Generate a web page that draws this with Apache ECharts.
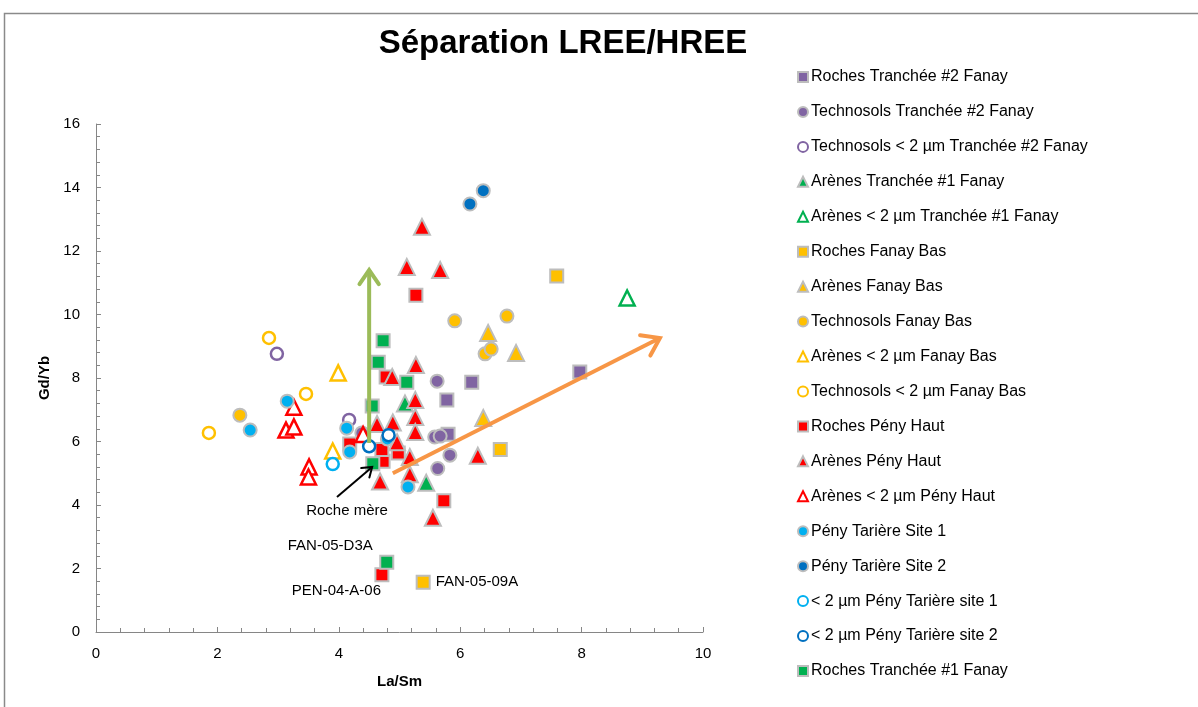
<!DOCTYPE html>
<html>
<head>
<meta charset="utf-8">
<script src="https://cdn.jsdelivr.net/npm/echarts@6/dist/echarts.min.js"></script>
<style>
  html, body { margin: 0; padding: 0; background: #fff; }
  #chart { width: 1198px; height: 707px; }
</style>
</head>
<body>
<div id="chart"></div>
<script>
// La/Sm (x) versus Gd/Yb (y) for each sample group
const rochesT2       = [[6.19, 7.87], [5.78, 7.31], [5.80, 6.23], [7.97, 8.19]];
const technoT2       = [[5.62, 7.90], [5.58, 6.14], [5.67, 6.17], [5.83, 5.57], [5.63, 5.15], [4.38, 6.27]];
const technoFineT2   = [[2.98, 8.76], [4.17, 6.68]];
const arenesT1       = [[5.09, 7.20], [5.44, 4.70]];
const arenesFineT1   = [[8.75, 10.52]];
const rochesBas      = [[7.59, 11.21], [6.66, 5.75], [5.39, 1.57]];
const arenesBas      = [[6.46, 9.42], [6.92, 8.79], [6.38, 6.74]];
const technoBas      = [[5.91, 9.80], [6.77, 9.95], [6.41, 8.76], [6.51, 8.91], [2.37, 6.83]];
const arenesFineBas  = [[3.99, 8.16], [3.90, 5.70]];
const technoFineBas  = [[2.85, 9.26], [3.46, 7.50], [1.86, 6.27]];
const rochesPeny     = [[5.27, 10.61], [4.78, 8.03], [4.18, 5.92], [4.98, 5.64], [4.73, 5.38], [4.71, 5.75], [5.73, 4.13], [4.71, 1.80]];
const arenesPeny     = [[5.37, 12.76], [5.12, 11.50], [5.67, 11.40], [5.27, 8.41], [4.88, 8.03], [5.26, 7.31], [5.26, 6.77], [4.89, 6.60],
                        [4.63, 6.55], [5.26, 6.30], [4.96, 5.98], [5.17, 5.51], [6.29, 5.55], [5.17, 4.97], [4.68, 4.74], [5.55, 3.60]];
const arenesFinePeny = [[3.26, 7.08], [3.13, 6.36], [3.26, 6.46], [3.51, 5.20], [3.50, 4.88], [4.40, 6.22]];
const tariere1       = [[3.15, 7.27], [2.54, 6.36], [4.13, 6.42], [4.18, 5.67], [4.80, 6.08], [5.14, 4.57]];
const tariere2       = [[6.38, 13.90], [6.16, 13.48]];
const tariereFine1   = [[3.90, 5.29]];
const tariereFine2   = [[4.50, 5.85], [4.82, 6.20]];
const rochesT1       = [[4.73, 9.17], [4.65, 8.50], [5.12, 7.87], [4.55, 7.12], [4.56, 5.30], [4.79, 2.20]];

// Sample names written next to individual points: [group, index in group, name]
const sampleNames = [
  ['Roches Tranchée #1 Fanay', 5, 'FAN-05-D3A'],
  ['Roches Pény Haut', 7, 'PEN-04-A-06'],
  ['Roches Fanay Bas', 2, 'FAN-05-09A']
];

// Trend arrows: [x start, y start, x end, y end]
const arrowLines = [
  [4.50, 5.95, 4.50, 11.40],
  [4.89, 5.00, 9.29, 9.26],
  [3.97, 4.25, 4.55, 5.20]
];
const arrowTexts = ['', '', 'Roche mère'];

const xTicks = { min: 0, max: 10, interval: 2 };
const yTicks = { min: 0, max: 16, interval: 2 };

const PURPLE = '#8064A2', GREEN = '#00B050', YELLOW = '#FFC000', RED = '#FF0000',
      CYAN = '#00B0F0', BLUE = '#0070C0', RIM = '#BDBDBD';
const FONT = 'Liberation Sans, Arial, sans-serif';

const labelStyles = {
  'FAN-05-D3A': { position: [-49, -9], align: 'center', verticalAlign: 'middle' },
  'PEN-04-A-06': { position: [-38, 24], align: 'center', verticalAlign: 'middle' },
  'FAN-05-09A': { position: 'right', distance: 5 }
};

function filled(name, data, symbol, color) {
  return { name, data, symbol, color, open: false };
}
function hollow(name, data, symbol, color) {
  return { name, data, symbol, color, open: true };
}

const groups = [
  filled('Roches Tranchée #2 Fanay', rochesT2, 'rect', PURPLE),
  filled('Technosols Tranchée #2 Fanay', technoT2, 'circle', PURPLE),
  hollow('Technosols < 2 µm Tranchée #2 Fanay', technoFineT2, 'circle', PURPLE),
  filled('Arènes Tranchée #1 Fanay', arenesT1, 'triangle', GREEN),
  hollow('Arènes < 2 µm Tranchée #1 Fanay', arenesFineT1, 'triangle', GREEN),
  filled('Roches Fanay Bas', rochesBas, 'rect', YELLOW),
  filled('Arènes Fanay Bas', arenesBas, 'triangle', YELLOW),
  filled('Technosols Fanay Bas', technoBas, 'circle', YELLOW),
  hollow('Arènes < 2 µm Fanay Bas', arenesFineBas, 'triangle', YELLOW),
  hollow('Technosols < 2 µm Fanay Bas', technoFineBas, 'circle', YELLOW),
  filled('Roches Pény Haut', rochesPeny, 'rect', RED),
  filled('Arènes Pény Haut', arenesPeny, 'triangle', RED),
  hollow('Arènes < 2 µm Pény Haut', arenesFinePeny, 'triangle', RED),
  filled('Pény Tarière Site 1', tariere1, 'circle', CYAN),
  filled('Pény Tarière Site 2', tariere2, 'circle', BLUE),
  hollow('< 2 µm Pény Tarière site 1', tariereFine1, 'circle', CYAN),
  hollow('< 2 µm Pény Tarière site 2', tariereFine2, 'circle', BLUE),
  filled('Roches Tranchée #1 Fanay', rochesT1, 'rect', GREEN)
];

function symbolSize(g) {
  if (g.symbol === 'triangle') return g.open ? 15 : 16;
  return g.open ? 12 : 13;
}

const scatterSeries = groups.map(g => ({
  type: 'scatter',
  name: g.name,
  symbol: g.symbol,
  symbolSize: symbolSize(g),
  itemStyle: g.open
    ? { color: '#ffffff', borderColor: g.color, borderWidth: 2.5, opacity: 1 }
    : { color: g.color, borderColor: RIM, borderWidth: 2, opacity: 1 },
  emphasis: { disabled: true },
  data: g.data.map((p, i) => {
    const tag = sampleNames.find(s => s[0] === g.name && s[1] === i);
    if (!tag) return p;
    return {
      value: p,
      name: tag[2],
      label: Object.assign({
        show: true,
        formatter: tag[2],
        color: '#000',
        fontSize: 15,
        fontFamily: FONT
      }, labelStyles[tag[2]])
    };
  })
}));

const arrowStyles = [
  { color: '#9BBB59', width: 4, head: 17 },
  { color: '#F79646', width: 4, head: 20 },
  { color: '#000000', width: 2, head: 11 }
];

const arrowSeries = {
  type: 'custom',
  name: 'arrows',
  z: 10,
  silent: true,
  encode: { x: [0, 2], y: [1, 3] },
  data: arrowLines,
  renderItem(params, api) {
    const a = api.coord([api.value(0), api.value(1)]);
    const b = api.coord([api.value(2), api.value(3)]);
    const st = arrowStyles[params.dataIndex];
    const ang = Math.atan2(b[1] - a[1], b[0] - a[0]);
    const spread = Math.PI / 5.2;
    const h1 = [b[0] - st.head * Math.cos(ang - spread), b[1] - st.head * Math.sin(ang - spread)];
    const h2 = [b[0] - st.head * Math.cos(ang + spread), b[1] - st.head * Math.sin(ang + spread)];
    const children = [
      { type: 'polyline', shape: { points: [a, b] },
        style: { stroke: st.color, lineWidth: st.width, fill: null, lineCap: 'butt' } },
      { type: 'polyline', shape: { points: [h1, b, h2] },
        style: { stroke: st.color, lineWidth: st.width, fill: null, lineJoin: 'miter', lineCap: 'round' } }
    ];
    const txt = arrowTexts[params.dataIndex];
    if (txt) {
      children.push({
        type: 'text',
        x: a[0] + 10, y: a[1] + 14,
        style: { text: txt, fill: '#000', fontSize: 15, fontFamily: FONT,
                 align: 'center', verticalAlign: 'middle' }
      });
    }
    return { type: 'group', children };
  }
};

const axisCommon = {
  axisLine: { show: true, lineStyle: { color: '#868686', width: 1 } },
  axisTick: { show: true, inside: true, length: 5, lineStyle: { color: '#868686' } },
  minorTick: { show: true, splitNumber: 5, length: 4, lineStyle: { color: '#868686' } },
  splitLine: { show: false },
  axisLabel: { color: '#000', fontSize: 15, fontFamily: FONT },
  nameTextStyle: { color: '#000', fontSize: 15, fontWeight: 'bold', fontFamily: FONT }
};

const chart = echarts.init(document.getElementById('chart'), null, { renderer: 'canvas' });
chart.setOption({
  animation: false,
  backgroundColor: '#ffffff',
  graphic: [
    { type: 'rect', shape: { x: 4.5, y: 13.5, width: 1210, height: 710 },
      style: { fill: null, stroke: '#8a8a8a', lineWidth: 1.5 }, silent: true },
    { type: 'text', x: 563, y: 44,
      style: { text: 'Séparation LREE/HREE', fill: '#000', fontSize: 33, fontWeight: 'bold',
               fontFamily: FONT, align: 'center', verticalAlign: 'middle' } }
  ],
  grid: { left: 96, right: 495, top: 124, bottom: 75, containLabel: false },
  xAxis: Object.assign({}, axisCommon, {
    type: 'value', min: xTicks.min, max: xTicks.max, interval: xTicks.interval,
    name: 'La/Sm', nameLocation: 'middle', nameGap: 42,
    axisLabel: Object.assign({}, axisCommon.axisLabel, { margin: 14 })
  }),
  yAxis: Object.assign({}, axisCommon, {
    type: 'value', min: yTicks.min, max: yTicks.max, interval: yTicks.interval,
    name: 'Gd/Yb', nameLocation: 'middle', nameGap: 43, nameRotate: 90,
    axisLabel: Object.assign({}, axisCommon.axisLabel, { margin: 16 })
  }),
  legend: {
    data: groups.map(g => g.name),
    orient: 'vertical',
    left: 797, top: 69,
    padding: 0,
    itemWidth: 10, itemHeight: 10,
    itemGap: 18.94,
    selectedMode: false,
    textStyle: { color: '#000', fontSize: 16, lineHeight: 16, padding: [0, 0, 0, -2],
                 fontFamily: FONT }
  },
  series: scatterSeries.concat([arrowSeries])
});
</script>
</body>
</html>
